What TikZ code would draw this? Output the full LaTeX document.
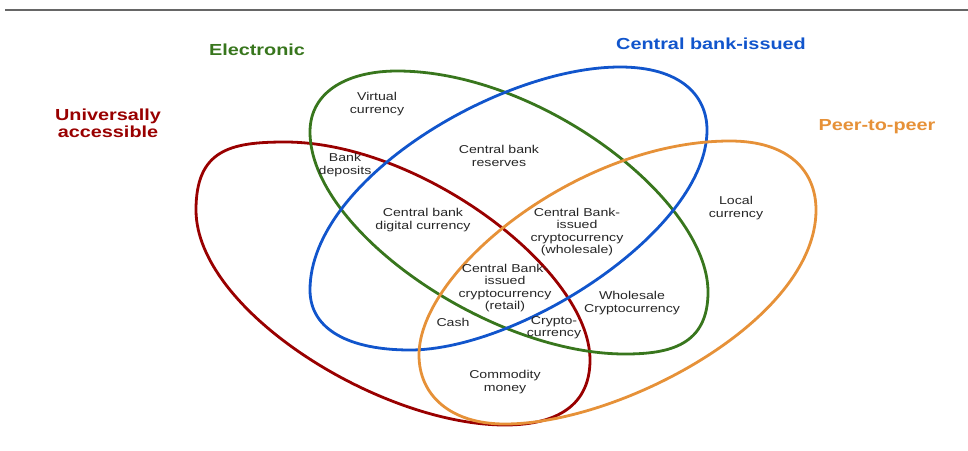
\documentclass[tikz,border=0pt]{standalone}
\usepackage{fontspec}
\setmainfont[FakeStretch=1.24]{Liberation Sans}

\definecolor{accred}{HTML}{990000}
\definecolor{elecgreen}{HTML}{38761D}
\definecolor{cbblue}{HTML}{1155CC}
\definecolor{p2porange}{HTML}{E69138}

\begin{document}
\begin{tikzpicture}[x=0.5pt, y=-0.5pt,
  ring/.style={line width=1.4pt},
  lbl/.style={align=center, text=black!85, font=\fontsize{5.7}{6.1}\selectfont},
  settitle/.style={align=center, font=\fontsize{8}{8.6}\selectfont\bfseries}]
\useasboundingbox (0,0) rectangle (968,450);
\draw[line width=1.2pt, black!60] (5,10) -- (968,10);
% the four sets
\draw[ring, accred] (285,142) .. controls (420,142) and (590,270) .. (590,360)
  .. controls (590,410) and (550,425) .. (505,425)
  .. controls (380,425) and (196,310) .. (196,210)
  .. controls (196,150) and (230,142) .. cycle;
\draw[ring, elecgreen] (310,132) .. controls (310,90) and (350,71) .. (397,71)
  .. controls (540,71) and (708,200) .. (708,292)
  .. controls (708,345) and (670,354) .. (625,354)
  .. controls (490,354) and (310,230) .. cycle;
\draw[ring, cbblue] (620,67) .. controls (680,67) and (707,95) .. (707,130)
  .. controls (707,230) and (520,350) .. (410,350)
  .. controls (350,350) and (310,330) .. (310,290)
  .. controls (310,180) and (500,67) .. cycle;
\draw[ring, p2porange] (730,141) .. controls (790,141) and (816,172) .. (816,210)
  .. controls (816,320) and (620,424) .. (505,424)
  .. controls (450,424) and (419,395) .. (419,355)
  .. controls (419,270) and (580,141) .. cycle;
% set names
\node[settitle, text=accred] (access) at (108,123) {Universally\\accessible};
\node[settitle, text=elecgreen] (elec) at (257,50) {Electronic};
\node[settitle, text=cbblue] (cbissued) at (711,44) {Central bank-issued};
\node[settitle, text=p2porange] (p2p) at (877,127) {Peer-to-peer};
% regions
\node[lbl] (virtual) at (377,104) {Virtual\\currency};
\node[lbl] (deposits) at (345,165) {Bank\\deposits};
\node[lbl] (reserves) at (499,156) {Central bank\\reserves};
\node[lbl] (cbdc) at (423,220) {Central bank\\digital currency};
\node[lbl] (wholecb) at (577,232) {Central Bank-\\issued\\cryptocurrency\\(wholesale)};
\node[lbl] (local) at (736,208) {Local\\currency};
\node[lbl] (retailcb) at (505,288) {Central Bank-\\issued\\cryptocurrency\\(retail)};
\node[lbl] (wholesale) at (632,303) {Wholesale\\Cryptocurrency};
\node[lbl] (cash) at (453,322) {Cash};
\node[lbl] (crypto) at (554,328) {Crypto-\\currency};
\node[lbl] (commodity) at (505,382) {Commodity\\money};
\end{tikzpicture}
\end{document}
